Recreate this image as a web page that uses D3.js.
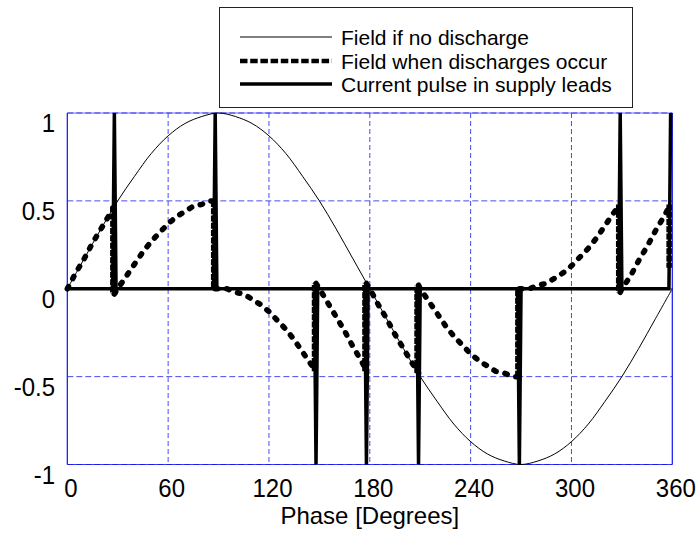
<!DOCTYPE html>
<html>
<head>
<meta charset="utf-8">
<script src="https://cdn.jsdelivr.net/npm/d3@7"></script>
<style>
  html, body { margin: 0; padding: 0; background: #fff; }
  svg { display: block; font-family: Arial, "Liberation Sans", sans-serif; }
</style>
</head>
<body>
<svg id="chart" width="698" height="533"></svg>
<script>
// ---- data ----
const phaseTicks = [0, 60, 120, 180, 240, 300, 360];
const fieldTicks = [1, 0.5, 0, -0.5, -1];
const fieldTickLabels = ["1", "0.5", "0", "-0.5", "-1"];
const xLabel = "Phase [Degrees]";
const seriesNames = ["Field if no discharge", "Field when discharges occur", "Current pulse in supply leads"];

// Field if no discharge
const noDischargePhase = [0,10,20,30,40,50,60,70,80,90,100,110,120,130,140,150,160,170,180,
  190,200,210,220,230,240,250,260,270,280,290,300,310,320,330,340,350,360];
const noDischargeField = [0,0.17,0.34,0.5,0.64,0.77,0.87,0.94,0.98,1,0.98,0.94,0.87,0.77,0.64,0.5,0.34,0.17,0,
  -0.17,-0.34,-0.5,-0.64,-0.77,-0.87,-0.94,-0.98,-1,-0.98,-0.94,-0.87,-0.77,-0.64,-0.5,-0.34,-0.17,0];

// Field when discharges occur
const dischargePhase = [0,5,10,15,20,25,28,
  28,30,35,40,45,50,55,60,65,70,75,80,85,88,
  88,90,95,100,105,110,115,120,125,130,135,140,145,148,
  148,150,155,160,165,170,175,178,
  178,180,185,190,195,200,205,209,
  209,210,215,220,225,230,235,240,245,250,255,260,265,269,
  269,275,280,285,290,295,300,305,310,315,320,325,329,
  329,330,335,340,345,350,355,359,
  359];
const dischargeField = [0,0.09,0.17,0.26,0.34,0.42,0.47,
  -0.03,0,0.07,0.14,0.21,0.27,0.32,0.37,0.41,0.44,0.47,0.48,0.5,0.5,
  0,0,0,-0.02,-0.03,-0.06,-0.09,-0.13,-0.18,-0.23,-0.29,-0.36,-0.43,-0.47,
  0.03,0,-0.08,-0.16,-0.24,-0.33,-0.41,-0.47,
  0.03,0,-0.09,-0.17,-0.26,-0.34,-0.42,-0.48,
  0.02,0,-0.07,-0.14,-0.21,-0.27,-0.32,-0.37,-0.41,-0.44,-0.47,-0.48,-0.5,-0.5,
  0,0,0.02,0.03,0.06,0.09,0.13,0.18,0.23,0.29,0.36,0.43,0.48,
  -0.02,0,0.07,0.16,0.24,0.33,0.41,0.48,
  0.12];

// Current pulse in supply leads
const currentPhase = [0,27,28,29,87,88,89,147,148,149,177,178,179,208,209,210,268,269,270,328,329,330,358,359];
const currentValue = [0,0,1,0,0,1,0,0,-1,0,0,-1,0,0,-1,0,0,-1,0,0,1,0,0,1];

// ---- drawing ----
const svg = d3.select("#chart");
const x = d3.scaleLinear().domain([0, 360]).range([67.3, 672.3]);
const y = d3.scaleLinear().domain([-1, 1]).range([464.5, 113]);
const gridColor = "#4b4bee";
const frameColor = "#1010f0";

// gridlines
const grid = svg.append("g");
grid.selectAll("line.vx").data(phaseTicks.slice(1, -1)).join("line")
  .attr("x1", d => x(d)).attr("x2", d => x(d))
  .attr("y1", y(1)).attr("y2", y(-1))
  .attr("stroke", gridColor).attr("stroke-width", 1).attr("stroke-dasharray", "5,3");
grid.selectAll("line.hy").data(fieldTicks).join("line")
  .attr("x1", x(0)).attr("x2", x(360))
  .attr("y1", d => y(d)).attr("y2", d => y(d))
  .attr("stroke", gridColor).attr("stroke-width", 1).attr("stroke-dasharray", "6,3");

// frame
svg.append("line").attr("x1", x(0)).attr("x2", x(0)).attr("y1", y(1)).attr("y2", y(-1))
  .attr("stroke", frameColor).attr("stroke-width", 1.2);
svg.append("line").attr("x1", x(360)).attr("x2", x(360)).attr("y1", y(1)).attr("y2", y(-1))
  .attr("stroke", frameColor).attr("stroke-width", 1.2);
svg.append("line").attr("x1", x(0)).attr("x2", x(360)).attr("y1", y(-1)).attr("y2", y(-1))
  .attr("stroke", frameColor).attr("stroke-width", 1).attr("opacity", 0.8);
svg.append("line").attr("x1", x(0)).attr("x2", x(360)).attr("y1", y(1)).attr("y2", y(1))
  .attr("stroke", frameColor).attr("stroke-width", 1).attr("opacity", 0.6);

// axes (labels only)
const xAxis = svg.append("g").attr("transform", `translate(0,${y(-1)})`)
  .call(d3.axisBottom(x).tickValues(phaseTicks).tickSize(0).tickFormat(d3.format("d")));
xAxis.select(".domain").remove();
xAxis.selectAll("text").attr("y", 0).attr("dy", 0)
  .attr("transform", d => `translate(3,${497 - y(-1)}) scale(1,1.05)`)
  .attr("font-size", 24).attr("font-family", "Arial, 'Liberation Sans', sans-serif").attr("fill", "#000");

const yAxis = svg.append("g").attr("transform", `translate(55,0)`)
  .call(d3.axisLeft(y).tickValues(fieldTicks).tickSize(0).tickFormat((d, i) => fieldTickLabels[i]));
yAxis.select(".domain").remove();
yAxis.selectAll(".tick").attr("transform", d => `translate(0,${y(d) + 19})`);
yAxis.selectAll("text").attr("x", 0).attr("dy", 0).attr("text-anchor", "end")
  .attr("transform", "scale(1,1.05)")
  .attr("font-size", 24).attr("font-family", "Arial, 'Liberation Sans', sans-serif").attr("fill", "#000");

svg.append("text").attr("x", (x(0) + x(360)) / 2).attr("y", 524)
  .attr("text-anchor", "middle").attr("font-size", 24).text(xLabel);

// series
const line = d3.line().x(d => x(d[0])).y(d => y(d[1]));
const noDis = noDischargePhase.map((p, i) => [p, noDischargeField[i]]);
const dis = dischargePhase.map((p, i) => [p, dischargeField[i]]);
const cur = currentPhase.map((p, i) => [p, currentValue[i]]);

svg.append("path").datum(noDis)
  .attr("d", d3.line().x(d => x(d[0])).y(d => y(d[1])).curve(d3.curveCatmullRom))
  .attr("fill", "none").attr("stroke", "#000").attr("stroke-width", 1);

// split discharge trace into smooth runs and vertical jumps
const runs = [];
const jumps = [];
let cur0 = [dis[0]];
for (let i = 1; i < dis.length; i++) {
  if (dis[i][0] === dis[i - 1][0]) {
    jumps.push([dis[i - 1], dis[i]]);
    runs.push(cur0);
    cur0 = [dis[i]];
  } else {
    cur0.push(dis[i]);
  }
}
if (cur0.length > 1) runs.push(cur0);

svg.append("g").selectAll("path.run").data(runs).join("path")
  .attr("d", line)
  .attr("fill", "none").attr("stroke", "#000").attr("stroke-width", 5.5)
  .attr("stroke-dasharray", "2.5,9").attr("stroke-linecap", "round").attr("stroke-linejoin", "round");

svg.append("g").selectAll("path.jump").data(jumps).join("path")
  .attr("d", line)
  .attr("transform", "translate(-1.5,0)")
  .attr("fill", "none").attr("stroke", "#000").attr("stroke-width", 5.5)
  .attr("stroke-dasharray", "6,1.3");

svg.append("path").datum(cur).attr("d", line)
  .attr("fill", "none").attr("stroke", "#000").attr("stroke-width", 3.5)
  .attr("stroke-linejoin", "miter").attr("stroke-miterlimit", 20);

// legend
const lg = svg.append("g");
lg.append("rect").attr("x", 219.5).attr("y", 7.5).attr("width", 413).attr("height", 100)
  .attr("fill", "#fff").attr("stroke", "#222").attr("stroke-width", 1);
const rows = [37, 61, 84];
const legendStyles = [
  { w: 1, dash: null },
  { w: 4.5, dash: "7.5,2.7" },
  { w: 3.5, dash: null }
];
seriesNames.forEach((name, i) => {
  lg.append("line").attr("x1", 240).attr("x2", 332).attr("y1", rows[i]).attr("y2", rows[i])
    .attr("stroke", "#000").attr("stroke-width", legendStyles[i].w)
    .attr("stroke-dasharray", legendStyles[i].dash);
  lg.append("text").attr("x", 341).attr("y", rows[i] + 7.5).attr("font-size", 21).text(name);
});
</script>
</body>
</html>
